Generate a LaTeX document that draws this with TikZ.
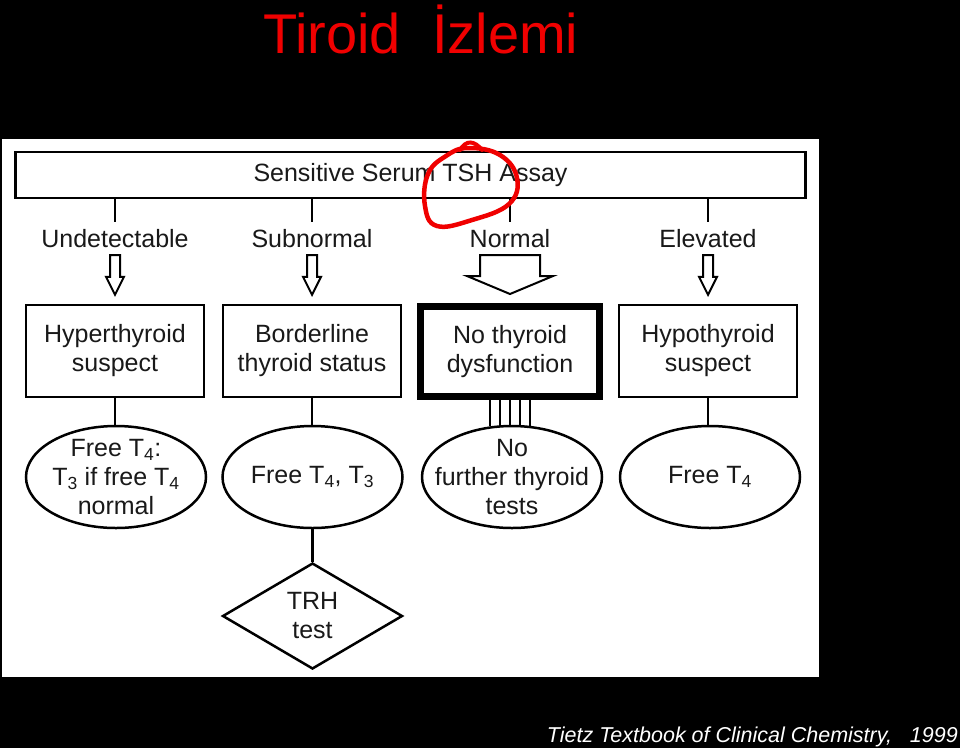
\documentclass[tikz,border=0pt]{standalone}
\usepackage{fontspec}
\setmainfont{Liberation Sans}
\usepackage{tikz}
\usetikzlibrary{shapes.geometric, calc}
\definecolor{inkgray}{RGB}{25,25,25}
\definecolor{titlered}{RGB}{240,0,0}
\newcommand{\tsub}[1]{\textsubscript{#1}}
\newcommand{\bodyfont}{\fontsize{25}{29}\selectfont}
\tikzset{
    assay/.style={rectangle, draw=black, fill=white, line width=2.5pt,
                  minimum width=790pt, minimum height=46pt, inner sep=0pt,
                  font=\bodyfont, text=inkgray},
    level/.style={inner sep=0pt, text height=18pt, text depth=5pt,
                  font=\bodyfont, text=inkgray},
    status/.style={rectangle, draw=black, fill=white, line width=2.5pt,
                   minimum width=178pt, minimum height=92pt, inner sep=0pt,
                   align=center, font=\bodyfont, text=inkgray},
    normbox/.style={status, line width=7pt, minimum width=179pt, minimum height=90pt},
    labtest/.style={ellipse, draw=black, fill=white, line width=2.5pt,
                    minimum width=180pt, minimum height=102pt,
                    inner xsep=-16pt, inner ysep=-6pt,
                    align=center, font=\bodyfont, text=inkgray},
    decision/.style={diamond, draw=black, fill=white, line width=2.5pt,
                     minimum width=180pt, minimum height=106pt, inner sep=0pt,
                     aspect=1.7, align=center, font=\bodyfont, text=inkgray},
    link/.style={line width=2.5pt},
    hollow/.style={draw=black, fill=white, line width=2pt, line join=miter}
}
\begin{document}
\begin{tikzpicture}[x=1pt, y=-1pt]
    % black slide and white scan
    \fill[black] (0,0) rectangle (960,748);
    \useasboundingbox (0,0) rectangle (960,748);
    \fill[white] (2,139) rectangle (819,677);

    \node[anchor=base west, text=titlered, inner sep=0pt,
          font=\fontsize{56}{60}\selectfont] (title) at (263,53) {Tiroid\ \ İzlemi};

    \node[assay] (assay) at (410.5,175) {Sensitive Serum TSH Assay};

    \node[level] (und) at (115,240.5) {Undetectable};
    \node[level] (sub) at (312,240.5) {Subnormal};
    \node[level] (nor) at (510,240.5) {Normal};
    \node[level] (ele) at (708,240.5) {Elevated};

    \node[status] (hyper) at (115,351) {Hyperthyroid\\suspect};
    \node[status] (border) at (312,351) {Borderline\\thyroid status};
    \node[normbox] (nodys) at (510,351.5) {No thyroid\\dysfunction};
    \node[status] (hypo) at (708,351) {Hypothyroid\\suspect};

    \node[labtest] (ft4t3) at (116,477) {Free T\tsub{4}:\\T\tsub{3} if free T\tsub{4}\\normal};
    \node[labtest] (both) at (312.5,477) {Free T\tsub{4}, T\tsub{3}};
    \node[labtest] (none) at (512,477) {No\\further thyroid\\tests};
    \node[labtest] (ft4) at (710,477) {Free T\tsub{4}};

    \node[decision] (trh) at (312.5,616) {TRH\\test};

    % ticks under the assay box
    \foreach \n in {und, sub, nor, ele}
        \draw[link] (assay.south -| \n.north) -- ([yshift=7pt]\n.north);

    % hollow arrows
    \foreach \a/\b/\w/\h in {und/hyper/5pt/9pt, sub/border/5pt/9pt,
                             ele/hypo/5pt/9pt, nor/nodys/30pt/43pt}
        \draw[hollow] let \p1=(\a.south), \p2=(\b.north) in
            (\x1-\w,\y1-3pt) -- (\x1-\w,\y2+27pt) -- (\x1-\h,\y2+27pt)
            -- (\x1,\y2+9pt) -- (\x1+\h,\y2+27pt) -- (\x1+\w,\y2+27pt)
            -- (\x1+\w,\y1-3pt) -- cycle;

    \draw[link] (hyper.south) -- (ft4t3.north -| hyper.south);
    \draw[link] (border.south) -- (both.north -| border.south);
    \draw[link] (hypo.south) -- (ft4.north -| hypo.south);
    \foreach \dx in {-20,-10,...,20}
        \draw[line width=2pt] ([xshift=\dx pt]nodys.south) -- ([xshift=\dx pt, yshift=-1pt]nodys.south |- none.north);
    \draw[link] (both.south) -- (trh.north);

    % red hand-drawn circle
    \draw[titlered, line width=4.5pt, line cap=round]
        plot[smooth cycle, tension=0.7] coordinates {(468,148) (500,155) (517,178)
        (509,204) (472,220) (437,226) (425,206) (428,174) (446,156)};
    \draw[titlered, line width=4pt, line cap=round]
        (460,150) .. controls (466,140) and (474,140) .. (482,150);

    \node[anchor=base east, text=white, inner sep=0pt,
          font=\fontsize{21.5}{24}\selectfont\itshape] (cite) at (958,742)
          {Tietz Textbook of Clinical Chemistry,\ \ \ 1999};
\end{tikzpicture}
\end{document}
